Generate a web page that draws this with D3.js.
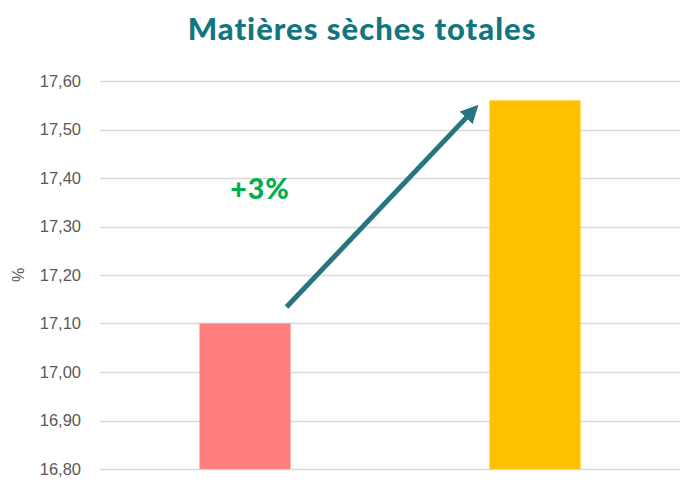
<!DOCTYPE html>
<html>
<head>
<meta charset="utf-8">
<script src="https://cdn.jsdelivr.net/npm/d3@7"></script>
<style>
  body { margin: 0; background: #fff; }
  #chart { width: 696px; height: 488px; }
</style>
</head>
<body>
<div id="chart"></div>
<script>
// data
const categories = ["A", "B"]
const values = [17.10, 17.56]
const barColors = ["#ff7f7f", "#ffc000"]
const yTicks = [16.8, 16.9, 17.0, 17.1, 17.2, 17.3, 17.4, 17.5, 17.6]
const title = "Matières sèches totales"
const yLabel = "%"
const changeLabel = "+3%"
// arrow start / tip in data units (y)
const arrowY = [17.134, 17.551]

const width = 696, height = 488
const margin = {top: 81, right: 16, bottom: 19, left: 100}

const svg = d3.select("#chart")
  .append("svg")
    .attr("width", width)
    .attr("height", height)

const g = svg.append("g")
  .attr("transform", `translate(${margin.left}, ${margin.top})`)

const w = width - margin.left - margin.right,
  h = height - margin.top - margin.bottom

const x = d3.scaleBand()
  .domain(categories)
  .range([0, w])
  .padding(0)

const y = d3.scaleLinear()
  .domain([16.8, 17.6])
  .range([h, 0])

const fmt = d => d.toFixed(2).replace(".", ",")

// gridlines
g.append("g")
  .selectAll("line")
  .data(yTicks)
  .join("line")
    .attr("x1", 0)
    .attr("x2", w)
    .attr("y1", d => Math.round(y(d)) + 0.5)
    .attr("y2", d => Math.round(y(d)) + 0.5)
    .style("stroke", "#d9d9d9")
    .style("stroke-width", 1.5)

// y axis labels
const yAxis = g.append("g")
  .call(d3.axisLeft(y).tickValues(yTicks).tickFormat(fmt).tickSize(0).tickPadding(19))
yAxis.select(".domain").remove()
yAxis.selectAll("text")
  .style("font-family", "'Liberation Sans', Arial, sans-serif")
  .style("font-size", "16.5px")
  .style("fill", "#595959")

// bars
const barW = x.bandwidth() * 0.314
g.selectAll("rect.bar")
  .data(values)
  .join("rect")
    .attr("class", "bar")
    .attr("x", (d, i) => x(categories[i]) + x.bandwidth() / 2 - barW / 2)
    .attr("y", d => y(d))
    .attr("width", barW)
    .attr("height", d => y(16.8) - y(d))
    .style("fill", (d, i) => barColors[i])

// arrow
const defs = svg.append("defs")
defs.append("marker")
    .attr("id", "head")
    .attr("viewBox", "0 0 10 10")
    .attr("refX", 4)
    .attr("refY", 5)
    .attr("markerWidth", 3.6)
    .attr("markerHeight", 3.6)
    .attr("markerUnits", "strokeWidth")
    .attr("orient", "auto")
  .append("path")
    .attr("d", "M0,0 L10,5 L0,10 z")
    .style("fill", "#267580")

const x0 = x(categories[0]) + x.bandwidth() / 2 + barW / 2 - 4
const xt = x(categories[1]) + x.bandwidth() / 2 - barW / 2 - 11
const y0 = y(arrowY[0]), yt = y(arrowY[1])
const len = Math.hypot(xt - x0, yt - y0)
const back = 6 * 1.8 // tip distance beyond line end
g.append("line")
  .attr("x1", x0)
  .attr("y1", y0)
  .attr("x2", xt - (xt - x0) / len * back)
  .attr("y2", yt - (yt - y0) / len * back)
  .attr("marker-end", "url(#head)")
  .style("stroke", "#267580")
  .style("stroke-width", 5)

// +3% label
g.append("text")
  .attr("x", x(categories[0]) + x.bandwidth() / 2 + 15)
  .attr("y", y(17.4) + 21)
  .attr("text-anchor", "middle")
  .style("font-family", "Lato, 'Open Sans', sans-serif")
  .style("font-weight", "900")
  .style("font-size", "28.5px")
  .style("letter-spacing", "1px")
  .style("fill", "#00b050")
  .text(changeLabel)

// y label
svg.append("text")
  .attr("transform", `translate(24, ${margin.top + y(17.2)}) rotate(-90)`)
  .attr("text-anchor", "middle")
  .style("font-family", "'Liberation Sans', Arial, sans-serif")
  .style("font-size", "16px")
  .style("fill", "#595959")
  .text(yLabel)

// title
svg.append("text")
  .attr("x", 362)
  .attr("y", 40)
  .attr("text-anchor", "middle")
  .style("font-family", "Lato, 'Open Sans', sans-serif")
  .style("font-weight", "900")
  .style("font-size", "31px")
  .style("letter-spacing", "1px")
  .style("fill", "#127680")
  .text(title)
</script>
</body>
</html>
